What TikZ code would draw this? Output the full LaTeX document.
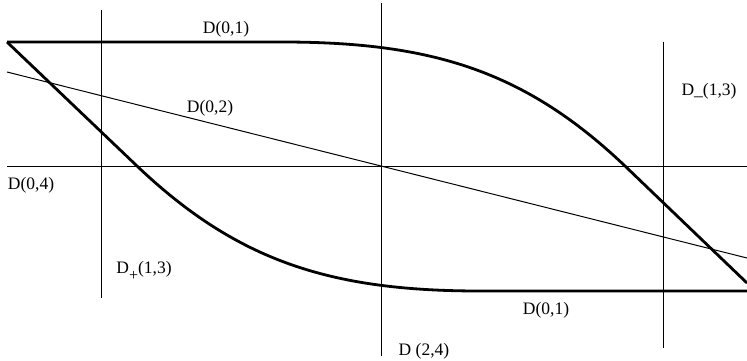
\documentclass[tikz,border=0pt]{standalone}
\usepackage{fontspec}
\setmainfont{Liberation Serif}
\begin{document}
\begin{tikzpicture}[x=1pt,y=-1pt,
  thinline/.style={line width=1pt,black},
  thickline/.style={line width=2.8pt,black,line join=round},
  lbl/.style={inner sep=0pt,font=\fontsize{17.5}{20}\selectfont}]
\useasboundingbox (0,0) rectangle (747,361);
% grid lines
\draw[thinline] (101,10) -- (101,298);
\draw[thinline] (381,3) -- (381,356);
\draw[thinline] (663,42) -- (663,348);
\draw[thinline] (7,166) -- (747,166);
\draw[thinline] (7,72) -- (747,258);
% thick curves
\draw[thickline] (7,42) -- (282,42) .. controls (432,42) and (525,71) .. (625,166) -- (747,283);
\draw[thickline] (7,42) -- (137,166) .. controls (237,261) and (330,291) .. (480,291) -- (747,291);
% labels
\node[lbl] (d01a) at (226,29) {D(0,1)};
\node[lbl] (d02) at (210,108) {D(0,2)};
\node[lbl] (d04) at (31,185) {D(0,4)};
\node[lbl] (dp13) at (144,271) {D\raisebox{-0.9ex}{\fontsize{16}{16}\selectfont+}(1,3)};
\node[lbl] (d24) at (424,351) {D (2,4)};
\node[lbl] (dm13) at (709,91) {D\_(1,3)};
\node[lbl] (d01b) at (546,310) {D(0,1)};
\end{tikzpicture}
\end{document}
